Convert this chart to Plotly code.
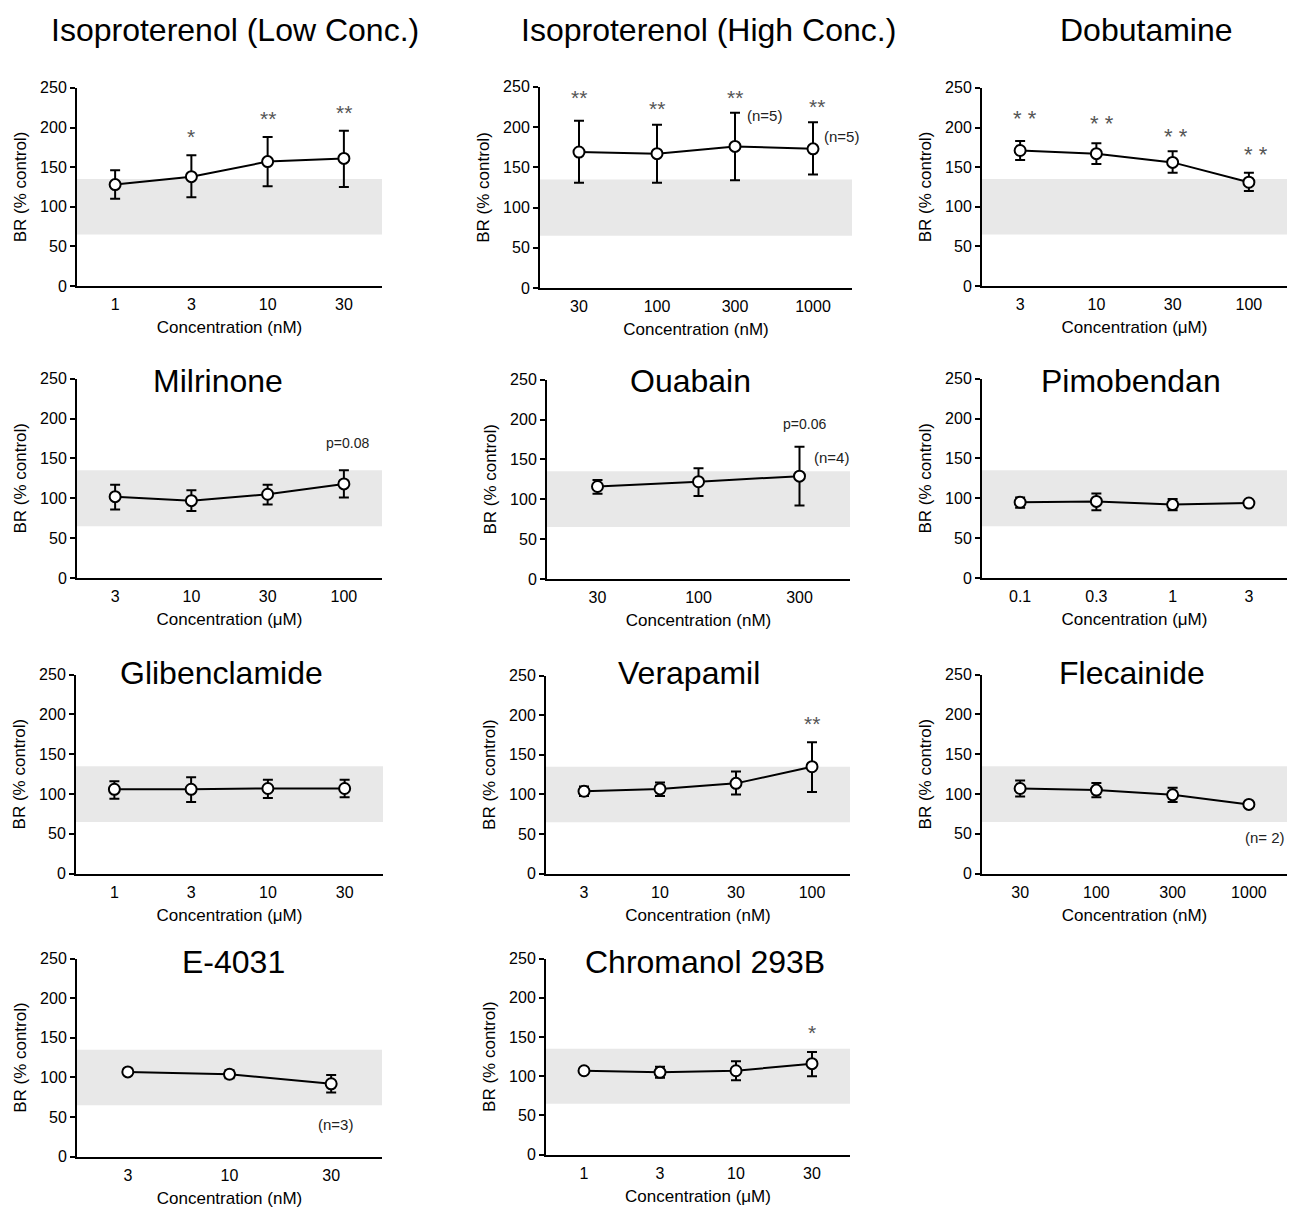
import plotly.graph_objects as go

W, H = 1291, 1216

# ---------------- data ----------------
iso_low_labels = ["1", "3", "10", "30"]
iso_low_mean = [128, 138, 157, 161]
iso_low_up = [18, 27, 31, 35]
iso_low_dn = [18, 26, 31, 36]

iso_high_labels = ["30", "100", "300", "1000"]
iso_high_mean = [169, 167, 176, 173]
iso_high_up = [39, 36, 42, 33]
iso_high_dn = [38, 36, 42, 32]

dobu_labels = ["3", "10", "30", "100"]
dobu_mean = [171, 167, 156, 131]
dobu_up = [12, 13, 14, 12]
dobu_dn = [12, 13, 13, 11]

milr_labels = ["3", "10", "30", "100"]
milr_mean = [102, 97, 105, 118]
milr_up = [15, 13, 12, 17]
milr_dn = [16, 13, 13, 17]

ouab_labels = ["30", "100", "300"]
ouab_mean = [116, 122, 129]
ouab_up = [8, 17, 37]
ouab_dn = [9, 18, 37]

pimo_labels = ["0.1", "0.3", "1", "3"]
pimo_mean = [95, 96, 92, 94]
pimo_up = [6, 10, 7, 2]
pimo_dn = [7, 11, 7, 2]

glib_labels = ["1", "3", "10", "30"]
glib_mean = [106, 106, 107, 107]
glib_up = [10, 15, 11, 11]
glib_dn = [12, 16, 12, 11]

vera_labels = ["3", "10", "30", "100"]
vera_mean = [104, 107, 114, 135]
vera_up = [6, 8, 15, 31]
vera_dn = [6, 9, 14, 32]

flec_labels = ["30", "100", "300", "1000"]
flec_mean = [107, 105, 99, 87]
flec_up = [10, 9, 9, 0]
flec_dn = [10, 9, 9, 0]

e4031_labels = ["3", "10", "30"]
e4031_mean = [107, 104, 92]
e4031_up = [3, 5, 11]
e4031_dn = [4, 5, 11]

chrom_labels = ["1", "3", "10", "30"]
chrom_mean = [107, 105, 107, 116]
chrom_up = [3, 7, 12, 15]
chrom_dn = [4, 7, 12, 16]

titles = ["Isoproterenol (Low Conc.)", "Isoproterenol (High Conc.)", "Dobutamine",
          "Milrinone", "Ouabain", "Pimobendan",
          "Glibenclamide", "Verapamil", "Flecainide",
          "E-4031", "Chromanol 293B"]
units = ["nM", "nM", "μM", "μM", "nM", "μM", "μM", "nM", "nM", "nM", "μM"]

# annotations per panel: (x category position, y value, text, kind)
notes = [
    [(1, 197, "*", "star"), (2, 220, "**", "star"), (3, 228, "**", "star")],
    [(0, 245, "**", "star"), (1, 232, "**", "star"), (2, 246, "**", "star"), (3.05, 234, "**", "star"),
     (2.38, 214, "(n=5)", "n"), (3.36, 188, "(n=5)", "n")],
    [(0.07, 218, "* *", "star2"), (1.07, 211, "* *", "star2"), (2.05, 195, "* *", "star2"), (3.09, 172, "* *", "star2")],
    [(3.05, 169, "p=0.08", "p")],
    [(2.05, 194, "p=0.06", "p"), (2.32, 153, "(n=4)", "n")],
    [],
    [],
    [(3, 198, "**", "star")],
    [(3.21, 45, "(n= 2)", "n")],
    [(2.04, 41, "(n=3)", "n")],
    [(3, 165, "*", "star")],
]

series = [
    (iso_low_labels, iso_low_mean, iso_low_up, iso_low_dn),
    (iso_high_labels, iso_high_mean, iso_high_up, iso_high_dn),
    (dobu_labels, dobu_mean, dobu_up, dobu_dn),
    (milr_labels, milr_mean, milr_up, milr_dn),
    (ouab_labels, ouab_mean, ouab_up, ouab_dn),
    (pimo_labels, pimo_mean, pimo_up, pimo_dn),
    (glib_labels, glib_mean, glib_up, glib_dn),
    (vera_labels, vera_mean, vera_up, vera_dn),
    (flec_labels, flec_mean, flec_up, flec_dn),
    (e4031_labels, e4031_mean, e4031_up, e4031_dn),
    (chrom_labels, chrom_mean, chrom_up, chrom_dn),
]

# ---------------- layout (pixel boxes) ----------------
boxes = [
    (77, 382, 81, 282), (540, 852, 80, 284), (982, 1287, 81, 282),
    (77, 382, 376, 578), (547, 850, 377, 579), (982, 1287, 376, 578),
    (76, 383, 676, 878), (546, 850, 677, 878), (982, 1287, 676, 878),
    (77, 382, 964, 1165), (546, 850, 964, 1163),
]
title_pos = [(235, 22), (708, 22), (1146, 22),
             (218, 378), (690, 378), (1131, 378),
             (221, 674), (689, 674), (1132, 674),
             (233, 968), (705, 968)]

FONT = "Liberation Sans, Arial, Helvetica, sans-serif"

fig = go.Figure()
layout_axes = {}
shapes = []
annotations = []

for k, ((labels, mean, up, dn), box) in enumerate(zip(series, boxes)):
    s = "" if k == 0 else str(k + 1)
    xl, xr, yt, yb = box
    n = len(labels)
    idx = list(range(n))
    fig.add_trace(go.Scatter(
        x=idx, y=mean, mode="lines+markers",
        line=dict(color="black", width=2),
        marker=dict(symbol="circle", size=11, color="white", line=dict(color="black", width=2)),
        error_y=dict(type="data", symmetric=False, array=up, arrayminus=dn,
                     color="black", thickness=2, width=5),
        xaxis="x" + s, yaxis="y" + s, showlegend=False, hoverinfo="x+y",
    ))
    layout_axes["xaxis" + s] = dict(
        domain=[xl / W, xr / W], anchor="y" + s, range=[-0.5, n - 0.5],
        tickvals=idx, ticktext=labels, ticks="outside", ticklen=3,
        tickcolor="rgba(0,0,0,0)", showline=True, linecolor="black", linewidth=2,
        showgrid=False, zeroline=False, tickfont=dict(size=16, color="black"),
        title=dict(text=f"Concentration ({units[k]})", font=dict(size=17, color="black"), standoff=9),
        fixedrange=True,
    )
    layout_axes["yaxis" + s] = dict(
        domain=[1 - yb / H, 1 - yt / H], anchor="x" + s, range=[0, 250],
        tickvals=[0, 50, 100, 150, 200, 250], ticks="outside", ticklen=5, tickwidth=1.5,
        tickcolor="black", showline=True, linecolor="black", linewidth=2,
        showgrid=False, zeroline=False, tickfont=dict(size=16, color="black"),
        title=dict(text="BR (% control)", font=dict(size=17, color="black"), standoff=9),
        fixedrange=True,
    )
    shapes.append(dict(type="rect", xref=f"x{s} domain", yref="y" + s, x0=0, x1=1, y0=65, y1=135,
                       fillcolor="#e8e8e8", line=dict(width=0), layer="below"))
    tx, ty = title_pos[k]
    annotations.append(dict(text=titles[k], xref="paper", yref="paper", x=tx / W, y=1 - ty / H,
                            xanchor="center", yanchor="middle", showarrow=False,
                            font=dict(size=32, color="black")))
    for (ax, ay, txt, kind) in notes[k]:
        if kind == "star":
            f = dict(size=21, color="#555555"); ys = -7
        elif kind == "star2":
            f = dict(size=22, color="#555555"); ys = -5
        elif kind == "p":
            f = dict(size=14, color="#222222"); ys = 0
        else:
            f = dict(size=15, color="#222222"); ys = 0
        annotations.append(dict(text=txt, xref="x" + s, yref="y" + s, x=ax, y=ay,
                                xanchor="center", yanchor="middle", showarrow=False,
                                font=f, yshift=ys))

fig.update_layout(
    width=W, height=H, margin=dict(l=0, r=0, t=0, b=0),
    paper_bgcolor="white", plot_bgcolor="white",
    font=dict(family=FONT, color="black"),
    shapes=shapes, annotations=annotations, showlegend=False,
    **layout_axes,
)

fig.write_html("out.html")
